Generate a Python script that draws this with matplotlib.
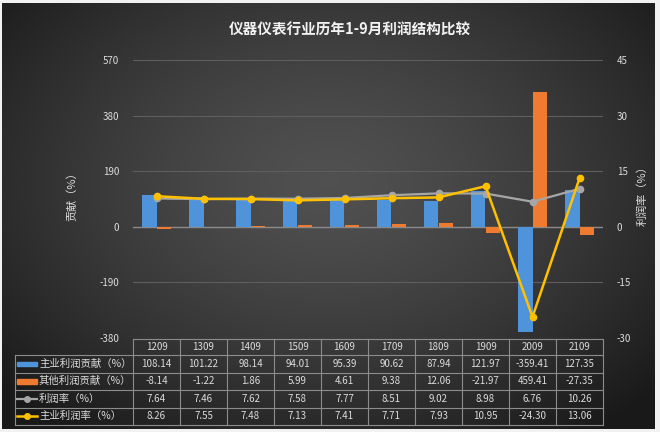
import numpy as np
import matplotlib
matplotlib.use("Agg")
import matplotlib.pyplot as plt
from matplotlib.patches import Rectangle
from matplotlib.lines import Line2D

plt.rcParams['font.family'] = ['Noto Sans CJK SC', 'DejaVu Sans']
plt.rcParams['axes.unicode_minus'] = False

# data
years = ["1209", "1309", "1409", "1509", "1609", "1709", "1809", "1909", "2009", "2109"]
main_contrib = [108.14, 101.22, 98.14, 94.01, 95.39, 90.62, 87.94, 121.97, -359.41, 127.35]
other_contrib = [-8.14, -1.22, 1.86, 5.99, 4.61, 9.38, 12.06, -21.97, 459.41, -27.35]
profit_rate = [7.64, 7.46, 7.62, 7.58, 7.77, 8.51, 9.02, 8.98, 6.76, 10.26]
main_rate = [8.26, 7.55, 7.48, 7.13, 7.41, 7.71, 7.93, 10.95, -24.30, 13.06]

series_names = ["主业利润贡献（%）", "其他利润贡献（%）", "利润率（%）", "主业利润率（%）"]
title = "仪器仪表行业历年1-9月利润结构比较"

BLUE = "#4f94db"
ORANGE = "#ee7b30"
GREY = "#a6a6a6"
YELLOW = "#ffc000"
TXT = "#dcdcdc"

W, H = 660, 432
fig = plt.figure(figsize=(W / 100, H / 100), dpi=100, facecolor="#f2f2f2")

# background panel with radial gradient (pixel coordinates)
bg = fig.add_axes([0, 0, 1, 1], zorder=-1)
bg.set_xlim(0, W)
bg.set_ylim(H, 0)
bg.axis("off")
yy, xx = np.mgrid[0:H:2, 0:W:2]
r = np.sqrt(((xx - 330) / 420.0) ** 2 + ((yy - 180) / 300.0) ** 2)
g = np.clip(0.315 - 0.20 * r ** 1.4, 0.10, 0.33)
img = np.dstack([g, g, g])
bg.imshow(img, extent=(2, 655, 429, 3), aspect="auto", interpolation="bilinear")

fig.text(350 / W, 1 - 30 / H, title, ha="center", va="center",
         fontsize=10.5, color="#f2f2f2", fontweight="bold")

# main chart
x0, x1, y0, y1 = 133, 603, 60, 338
ax = fig.add_axes([x0 / W, 1 - y1 / H, (x1 - x0) / W, (y1 - y0) / H])
ax.set_facecolor("none")
x = np.arange(len(years))
ax.set_xlim(-0.5, len(years) - 0.5)
ax.set_ylim(-380, 570)
ax.set_yticks(np.arange(-380, 571, 190))
ax.set_xticks([])
ax.grid(axis="y", color="#5e5e5e", lw=0.8)
ax.axhline(0, color="#8a8a8a", lw=1, zorder=1)
ax.set_axisbelow(True)
ax.bar(x - 0.15, main_contrib, 0.3, color=BLUE, zorder=2)
ax.bar(x + 0.15, other_contrib, 0.3, color=ORANGE, zorder=2)
for s in ax.spines.values():
    s.set_visible(False)
ax.tick_params(axis="y", length=0, labelsize=7, labelcolor=TXT, pad=10)
ax.set_ylabel("贡献（%）", fontsize=8, color=TXT)
ax.yaxis.set_label_coords((77 - x0) / (x1 - x0), 0.52)

ax2 = ax.twinx()
ax2.set_ylim(-30, 45)
ax2.set_yticks(np.arange(-30, 46, 15))
ax2.plot(x, profit_rate, color=GREY, lw=1.6, marker="o", ms=4.5, zorder=3)
ax2.plot(x, main_rate, color=YELLOW, lw=1.8, marker="o", ms=4.5, zorder=4)
for s in ax2.spines.values():
    s.set_visible(False)
ax2.tick_params(axis="y", length=0, labelsize=7, labelcolor=TXT, pad=10)
ax2.set_ylabel("利润率（%）", fontsize=8, color=TXT, rotation=90)
ax2.yaxis.set_label_coords((637 - x0) / (x1 - x0), 0.52)

# data table under the chart (pixel coordinates on bg axes)
lc = "#8c8c8c"
tl = 15
cw = (x1 - x0) / len(years)
rows_y = [339, 355, 372.5, 390, 407.5, 425]
bg.plot([x0, x1], [rows_y[0]] * 2, color=lc, lw=0.8)
for yv in rows_y[1:]:
    bg.plot([tl, x1], [yv] * 2, color=lc, lw=0.8)
bg.plot([tl, tl], [rows_y[1], rows_y[-1]], color=lc, lw=0.8)
for i in range(len(years) + 1):
    bg.plot([x0 + i * cw] * 2, [rows_y[0], rows_y[-1]], color=lc, lw=0.8)

for i, yr in enumerate(years):
    bg.text(x0 + (i + 0.5) * cw, (rows_y[0] + rows_y[1]) / 2, yr,
            ha="center", va="center", fontsize=7, color=TXT)

table_rows = [main_contrib, other_contrib, profit_rate, main_rate]
for j, vals in enumerate(table_rows):
    yc = (rows_y[j + 1] + rows_y[j + 2]) / 2
    for i, v in enumerate(vals):
        bg.text(x0 + (i + 0.5) * cw, yc, f"{v:.2f}", ha="center", va="center",
                fontsize=7, color=TXT)
    bg.text(39, yc, series_names[j], ha="left", va="center", fontsize=7.5, color=TXT)

# legend keys in the label column
yc = [(rows_y[k] + rows_y[k + 1]) / 2 for k in range(1, 5)]
bg.add_patch(Rectangle((17, yc[0] - 2), 20, 4, color=BLUE))
bg.add_patch(Rectangle((17, yc[1] - 2.5), 20, 5, color=ORANGE))
bg.add_line(Line2D([17, 37], [yc[2]] * 2, color=GREY, lw=1.6))
bg.plot([27], [yc[2]], marker="o", ms=4, color=GREY)
bg.add_line(Line2D([17, 37], [yc[3]] * 2, color=YELLOW, lw=1.8))
bg.plot([27], [yc[3]], marker="o", ms=4, color=YELLOW)

fig.savefig("out.png", dpi=100, facecolor=fig.get_facecolor())
